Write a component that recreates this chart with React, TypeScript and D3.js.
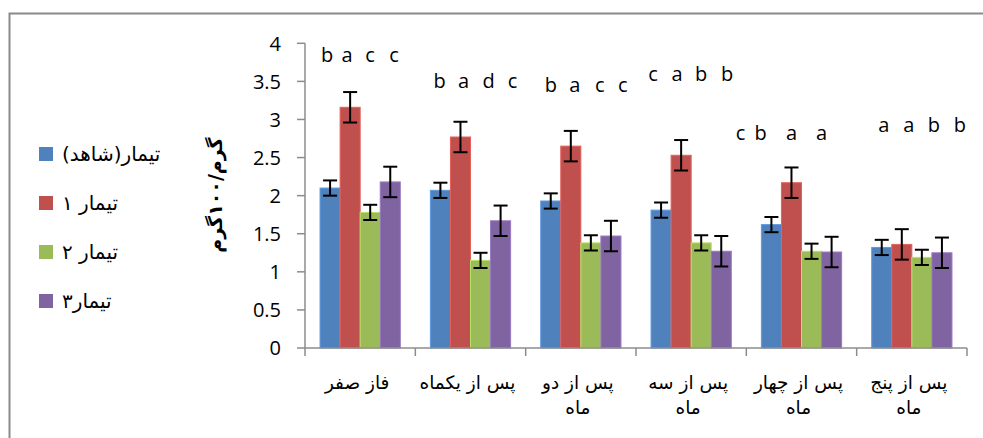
import React from "react";
import * as d3 from "d3";

const categories = [
  "فاز صفر",
  "پس از یکماه",
  "پس از دو ماه",
  "پس از سه ماه",
  "پس از چهار ماه",
  "پس از پنج ماه",
];
const seriesNames = ["تیمار(شاهد)", "تیمار ۱", "تیمار ۲", "تیمار۳"];
const seriesColors = ["#4F81BD", "#C0504D", "#9BBB59", "#8064A2"];

const control = [2.1, 2.07, 1.93, 1.81, 1.62, 1.32];
const t1 = [3.16, 2.77, 2.65, 2.53, 2.17, 1.36];
const t2 = [1.78, 1.15, 1.38, 1.38, 1.27, 1.19];
const t3 = [2.18, 1.67, 1.47, 1.27, 1.26, 1.25];
const values = [control, t1, t2, t3];

const errControl = [0.1, 0.1, 0.1, 0.1, 0.1, 0.1];
const errT1 = [0.2, 0.2, 0.2, 0.2, 0.2, 0.2];
const errT2 = [0.1, 0.1, 0.1, 0.1, 0.1, 0.1];
const errT3 = [0.2, 0.2, 0.2, 0.2, 0.2, 0.2];
const errors = [errControl, errT1, errT2, errT3];

const letters = [
  ["b", "a", "c", "c"],
  ["b", "a", "d", "c"],
  ["b", "a", "c", "c"],
  ["c", "a", "b", "b"],
  ["c", "b", "a", "a"],
  ["a", "a", "b", "b"],
];

const yTicks = [0, 0.5, 1, 1.5, 2, 2.5, 3, 3.5, 4];
const yTitle = "گرم/۱۰۰گرم";

// layout for the letter annotations (value-level of baseline, x offsets from category centre)
const annotLevel = [3.75, 3.41, 3.36, 3.5, 2.73, 2.84];
const annotOffsets = [
  [-33, -13, 10, 34],
  [-31, -7, 18, 42],
  [-30, -6, 19, 42],
  [-38, -14, 10, 36],
  [-61, -41, -10, 20],
  [-28, -3, 22, 48],
];

const W = 983;
const H = 438;
const plotLeft = 305;
const plotRight = 967;
const plotTop = 43.3;
const plotBottom = 348;
const axisColor = "#8c8c8c";
const arabicFont = "'DejaVu Sans', 'Liberation Sans', sans-serif";
const latinFont = "'Open Sans', 'Liberation Sans', sans-serif";

export default function App() {
  const x = d3.scaleBand<string>().domain(categories).range([plotLeft, plotRight]).paddingInner(0).paddingOuter(0);
  const bw = x.bandwidth();
  const barW = bw / 5.5;
  const xs = d3
    .scaleBand<number>()
    .domain(d3.range(seriesNames.length))
    .range([0.75 * barW, 4.75 * barW]);
  const y = d3.scaleLinear().domain([0, 4]).range([plotBottom, plotTop]);

  const wrap = (s: string) => {
    if (s.endsWith(" ماه")) return [s.slice(0, -4), "ماه"];
    return [s];
  };

  return (
    <svg
      width={W}
      height={H}
      style={{ position: "absolute", left: 0, top: 0, background: "#fff" }}
    >
      <rect x={0} y={0} width={W} height={H} fill="#fff" />
      <rect x={9.5} y={13.5} width={1200} height={800} fill="none" stroke="#8a8a8a" strokeWidth={2} />

      {/* bars */}
      {values.map((vals, s) =>
        vals.map((v, i) => {
          const bx = (x(categories[i]) as number) + (xs(s) as number);
          const col = d3.color(seriesColors[s])!;
          return (
            <rect
              key={`b${s}-${i}`}
              x={bx}
              y={y(v)}
              width={xs.bandwidth()}
              height={y(0) - y(v)}
              fill={seriesColors[s]}
              stroke={col.brighter(0.5).formatHex()}
              strokeWidth={1}
            />
          );
        })
      )}

      {/* error bars */}
      {values.map((vals, s) =>
        vals.map((v, i) => {
          const cx = (x(categories[i]) as number) + (xs(s) as number) + xs.bandwidth() / 2;
          const e = errors[s][i];
          const y1 = y(v + e);
          const y2 = y(v - e);
          return (
            <g key={`e${s}-${i}`} stroke="#000" strokeWidth={2}>
              <line x1={cx} x2={cx} y1={y1} y2={y2} />
              <line x1={cx - 7} x2={cx + 7} y1={y1} y2={y1} />
              <line x1={cx - 7} x2={cx + 7} y1={y2} y2={y2} />
            </g>
          );
        })
      )}

      {/* y axis */}
      <line x1={plotLeft} x2={plotLeft} y1={plotTop} y2={plotBottom} stroke={axisColor} strokeWidth={1.5} />
      {yTicks.map((t) => (
        <g key={`yt${t}`}>
          <line x1={plotLeft - 8} x2={plotLeft} y1={y(t)} y2={y(t)} stroke={axisColor} strokeWidth={1.5} />
          <text
            x={281}
            y={y(t)}
            dy="0.36em"
            textAnchor="end"
            fontFamily={latinFont}
            fontSize={20}
            fill="#000"
          >
            {String(t)}
          </text>
        </g>
      ))}

      {/* x axis */}
      <line x1={plotLeft} x2={plotRight} y1={plotBottom} y2={plotBottom} stroke={axisColor} strokeWidth={1.5} />
      {d3.range(categories.length + 1).map((k) => {
        const tx = plotLeft + k * bw;
        return <line key={`xt${k}`} x1={tx} x2={tx} y1={plotBottom} y2={plotBottom + 8} stroke={axisColor} strokeWidth={1.5} />;
      })}
      {categories.map((c) => {
        const lines = wrap(c);
        const cx = (x(c) as number) + bw / 2 - 3;
        return (
          <text
            key={`xl${c}`}
            x={cx}
            y={389}
            textAnchor="middle"
            direction="rtl"
            fontFamily={arabicFont}
            fontSize={18.5}
            fill="#000"
          >
            {lines.map((l, j) => (
              <tspan key={j} x={cx} y={389 + j * 25}>
                {l}
              </tspan>
            ))}
          </text>
        );
      })}

      {/* letters */}
      {letters.map((ls, g) => {
        const cx = (x(categories[g]) as number) + bw / 2;
        return ls.map((l, j) => (
          <text
            key={`l${g}-${j}`}
            x={cx + annotOffsets[g][j]}
            y={y(annotLevel[g])}
            textAnchor="middle"
            fontFamily={latinFont}
            fontSize={20}
            fill="#000"
          >
            {l}
          </text>
        ));
      })}

      {/* y title */}
      <text
        transform={`translate(222,195) rotate(-90)`}
        textAnchor="middle"
        direction="rtl"
        fontFamily={arabicFont}
        fontWeight="bold"
        fontSize={19}
        fill="#000"
      >
        {yTitle}
      </text>

      {/* legend */}
      {seriesNames.map((n, s) => {
        const cy = 154 + s * 49;
        return (
          <g key={`lg${s}`}>
            <rect x={39} y={cy - 7} width={14} height={14} fill={seriesColors[s]} />
            <text
              x={62}
              y={cy}
              dy="0.35em"
              textAnchor="end"
              direction="rtl"
              fontFamily={arabicFont}
              fontSize={20}
              fill="#000"
            >
              {n}
            </text>
          </g>
        );
      })}
    </svg>
  );
}
